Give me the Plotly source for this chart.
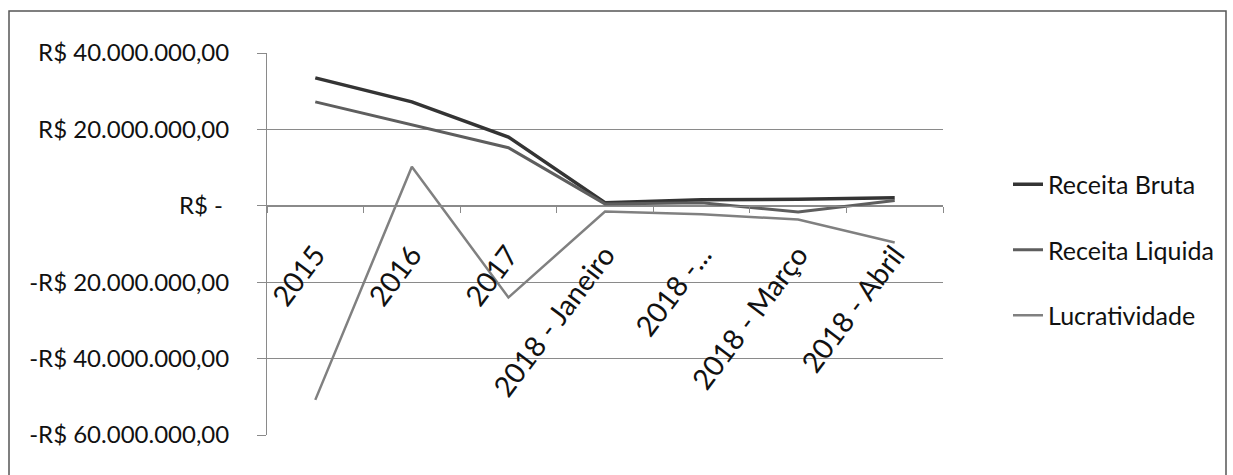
import plotly.graph_objects as go

categorias = ["2015", "2016", "2017", "2018 - Janeiro", "2018 -...", "2018 - Março", "2018 - Abril"]
receita_bruta = [33.5e6, 27.2e6, 18.0e6, 0.8e6, 1.6e6, 1.7e6, 2.1e6]
receita_liquida = [27.2e6, 21.2e6, 15.2e6, 0.5e6, 0.8e6, -1.6e6, 1.4e6]
lucratividade = [-50.8e6, 10.2e6, -24.0e6, -1.5e6, -2.2e6, -3.6e6, -9.6e6]

y_ticks = [40e6, 20e6, 0, -20e6, -40e6, -60e6]
y_labels = ["R$ 40.000.000,00", "R$ 20.000.000,00", "R$ -\u00a0",
            "-R$ 20.000.000,00", "-R$ 40.000.000,00", "-R$ 60.000.000,00"]

FONT = "Lato, Carlito, sans-serif"

fig = go.Figure()
series = [
    ("Receita Bruta", receita_bruta, "#343434", 3.5),
    ("Receita Liquida", receita_liquida, "#5e5e5e", 3),
    ("Lucratividade", lucratividade, "#808080", 2.5),
]
for name, vals, col, w in series:
    fig.add_trace(go.Scatter(x=categorias, y=vals, mode="lines", name=name,
                             legendgroup=name,
                             line=dict(color=col, width=w)))

W, H = 1233, 475
L, R, T, B = 267, 290, 53, 40
pw, ph = W - L - R, H - T - B

def px(x):
    return (x - L) / pw

def py(y):
    return (H - B - y) / ph

fig.update_layout(
    width=W, height=H,
    margin=dict(l=L, r=R, t=T, b=B, autoexpand=False),
    paper_bgcolor="white", plot_bgcolor="white",
    font=dict(family=FONT, color="#111111", size=22),
    showlegend=True,
    legend=dict(x=px(1008), y=py(250), xanchor="left", yanchor="middle",
                font=dict(size=25, family=FONT, color="#111111"),
                tracegroupgap=30, bgcolor="rgba(0,0,0,0)"),
    xaxis=dict(type="category", range=[-0.5, 6.5], anchor="free", position=0.6,
               showgrid=False, showline=True, linecolor="#8a8a8a", linewidth=1,
               ticks="outside", tickson="boundaries", ticklen=6, tickcolor="#8a8a8a",
               tickangle=-53, tickfont=dict(size=28.5), ticklabelstandoff=20,
               automargin=False),
    yaxis=dict(range=[-60e6, 40e6], tickvals=y_ticks, ticktext=y_labels,
               showgrid=True, gridcolor="#8a8a8a", gridwidth=1, zeroline=False,
               showline=True, linecolor="#8a8a8a", linewidth=1,
               ticks="outside", ticklen=9, tickcolor="#8a8a8a",
               tickfont=dict(size=24), ticklabelstandoff=23, automargin=False),
    shapes=[dict(type="rect", xref="paper", yref="paper",
                 x0=px(9), x1=px(1226), y0=py(480), y1=py(11),
                 line=dict(color="#555555", width=1.5), layer="below")],
)

fig.write_html("out.html")
